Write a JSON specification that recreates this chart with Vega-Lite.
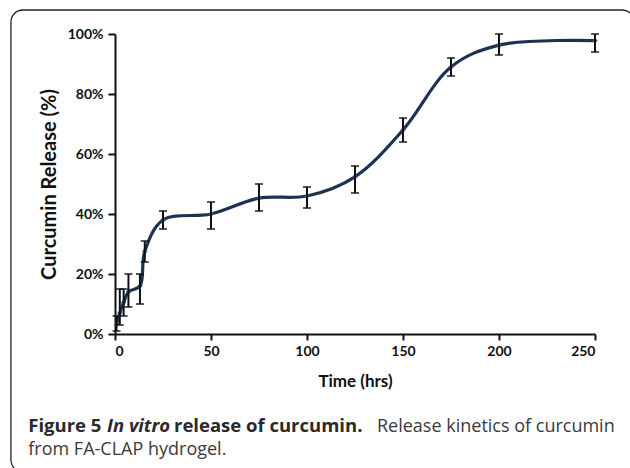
{
  "$schema": "https://vega.github.io/schema/vega-lite/v6.json",
  "autosize": {"type": "none"},
  "width": 480,
  "height": 300,
  "padding": {"left": 115, "top": 34, "right": 35, "bottom": 134},
  "background": "white",
  "config": {
    "view": {"stroke": null},
    "font": "Lato"
  },
  "datasets": {
    "release": [
      {"t": 0.8, "y": 3.3, "lo": 1, "hi": 6},
      {"t": 2.5, "y": 7, "lo": 3, "hi": 15},
      {"t": 4.5, "y": 10.5, "lo": 6, "hi": 15},
      {"t": 7, "y": 14, "lo": 9, "hi": 20},
      {"t": 13, "y": 16, "lo": 10, "hi": 20},
      {"t": 15.5, "y": 27.5, "lo": 24, "hi": 31},
      {"t": 25, "y": 38, "lo": 35, "hi": 41},
      {"t": 50, "y": 40, "lo": 35, "hi": 44},
      {"t": 75, "y": 45.3, "lo": 41, "hi": 50},
      {"t": 100, "y": 46, "lo": 42, "hi": 49},
      {"t": 125, "y": 52.4, "lo": 47, "hi": 56},
      {"t": 150, "y": 68, "lo": 64, "hi": 72},
      {"t": 175, "y": 89, "lo": 86, "hi": 92},
      {"t": 200, "y": 96.3, "lo": 93, "hi": 100},
      {"t": 250, "y": 97.8, "lo": 94, "hi": 100}
    ]
  },
  "layer": [
    {
      "data": {"values": [{"frame": 1}]},
      "mark": {"type": "rect", "fill": null, "stroke": "#222", "strokeWidth": 1.3, "cornerRadius": 12},
      "encoding": {
        "x": {"datum": -54.2, "type": "quantitative", "scale": {"domain": [0, 250], "nice": false}, "title": "Time (hrs)"},
        "x2": {"datum": 270.5},
        "y": {"datum": 108, "type": "quantitative", "scale": {"domain": [0, 100], "nice": false}, "title": "Curcumin Release (%)"},
        "y2": {"datum": -46}
      }
    },
    {
      "data": {"name": "release"},
      "mark": {"type": "line", "interpolate": "catmull-rom", "stroke": "#1d3150", "strokeWidth": 3.2},
      "encoding": {
        "x": {
          "field": "t", "type": "quantitative",
          "scale": {"domain": [0, 250], "nice": false},
          "title": "Time (hrs)",
          "axis": {
            "values": [0, 50, 100, 150, 200, 250],
            "titleFont": "Lato", "titleFontSize": 17, "titleFontWeight": "bold", "titleColor": "#111",
            "titlePadding": 15,
            "labelFont": "Lato", "labelFontSize": 14, "labelFontWeight": "bold", "labelColor": "#111",
            "labelPadding": 4,
            "domainColor": "#111", "domainWidth": 2,
            "tickColor": "#111", "tickWidth": 2, "tickSize": 6,
            "grid": false
          }
        },
        "y": {
          "field": "y", "type": "quantitative",
          "scale": {"domain": [0, 100], "nice": false},
          "title": "Curcumin Release (%)",
          "axis": {
            "values": [0, 20, 40, 60, 80, 100],
            "labelExpr": "datum.value + '%'",
            "titleFont": "Lato", "titleFontSize": 20, "titleFontWeight": "bold", "titleColor": "#111",
            "titlePadding": 8,
            "labelFont": "Lato", "labelFontSize": 14, "labelFontWeight": "bold", "labelColor": "#111",
            "labelPadding": 5,
            "domainColor": "#111", "domainWidth": 2,
            "tickColor": "#111", "tickWidth": 2, "tickSize": 7,
            "grid": false
          }
        }
      }
    },
    {
      "data": {"name": "release"},
      "mark": {"type": "point", "shape": "diamond", "filled": true, "color": "#3b587c", "size": 30, "opacity": 1},
      "encoding": {
        "x": {"field": "t", "type": "quantitative", "title": "Time (hrs)"},
        "y": {"field": "y", "type": "quantitative", "title": "Curcumin Release (%)"}
      }
    },
    {
      "data": {"name": "release"},
      "mark": {"type": "errorbar", "ticks": {"size": 8, "thickness": 2, "color": "#111"}, "rule": {"strokeWidth": 2, "color": "#111"}},
      "encoding": {
        "x": {"field": "t", "type": "quantitative", "title": "Time (hrs)"},
        "y": {"field": "lo", "type": "quantitative", "title": "Curcumin Release (%)"},
        "y2": {"field": "hi"}
      }
    },
    {
      "data": {"values": [{"s": "Figure 5"}]},
      "mark": {"type": "text", "align": "left", "baseline": "alphabetic", "font": "Open Sans", "fontSize": 18.5, "fontWeight": "bold", "color": "#2a2a2a"},
      "encoding": {"text": {"field": "s"}, "x": {"datum": -45.16, "type": "quantitative"}, "y": {"datum": -32.67, "type": "quantitative"}}
    },
    {
      "data": {"values": [{"s": "In vitro"}]},
      "mark": {"type": "text", "align": "left", "baseline": "alphabetic", "font": "Open Sans", "fontSize": 18.5, "fontWeight": "bold", "fontStyle": "italic", "color": "#2a2a2a"},
      "encoding": {"text": {"field": "s"}, "x": {"datum": -4.17, "type": "quantitative"}, "y": {"datum": -32.67, "type": "quantitative"}}
    },
    {
      "data": {"values": [{"s": "release of curcumin."}]},
      "mark": {"type": "text", "align": "left", "baseline": "alphabetic", "font": "Open Sans", "fontSize": 18.5, "fontWeight": "bold", "color": "#2a2a2a"},
      "encoding": {"text": {"field": "s"}, "x": {"datum": 30.73, "type": "quantitative"}, "y": {"datum": -32.67, "type": "quantitative"}}
    },
    {
      "data": {"values": [{"s": "Release kinetics of curcumin"}]},
      "mark": {"type": "text", "align": "left", "baseline": "alphabetic", "font": "Open Sans", "fontSize": 18, "fontWeight": "normal", "color": "#3a3a3a"},
      "encoding": {"text": {"field": "s"}, "x": {"datum": 136.46, "type": "quantitative"}, "y": {"datum": -32.67, "type": "quantitative"}}
    },
    {
      "data": {"values": [{"s": "from FA-CLAP hydrogel."}]},
      "mark": {"type": "text", "align": "left", "baseline": "alphabetic", "font": "Open Sans", "fontSize": 18, "fontWeight": "normal", "color": "#3a3a3a"},
      "encoding": {"text": {"field": "s"}, "x": {"datum": -45.16, "type": "quantitative"}, "y": {"datum": -40.4, "type": "quantitative"}}
    }
  ]
}
